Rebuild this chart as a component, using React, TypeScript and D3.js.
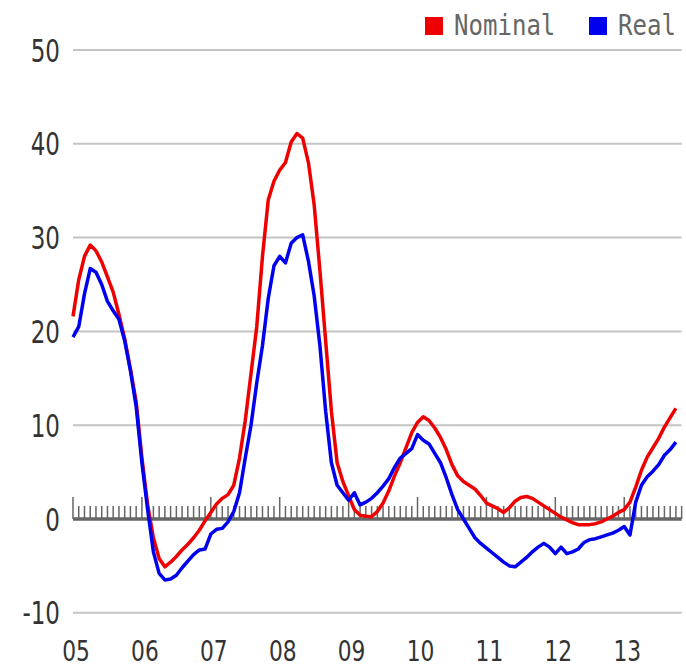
import React from "react";
import * as d3 from "d3";

// Monthly values, Jan 2005 .. Oct 2013 (y/y % change)
const nominal = [
  21.6, 25.5, 28.0, 29.2, 28.6, 27.4, 25.8, 24.2, 21.8, 19.2, 16.0, 12.5,
  6.5, 1.5, -2.0, -4.2, -5.1, -4.6, -4.0, -3.3, -2.7, -2.0, -1.2, -0.2,
  0.7, 1.6, 2.2, 2.6, 3.6, 6.5, 10.5, 15.5, 20.5, 28.0, 34.0, 36.0,
  37.2, 38.0, 40.2, 41.1, 40.6, 38.0, 33.5, 26.5, 19.0, 11.5, 6.0, 4.0,
  2.5, 1.0, 0.4, 0.3, 0.25, 0.8, 1.7, 3.0, 4.6, 6.0, 7.6, 9.2,
  10.3, 10.9, 10.5, 9.7, 8.7, 7.4, 5.8, 4.6, 4.0, 3.6, 3.2, 2.5,
  1.7, 1.4, 1.1, 0.7, 1.2, 1.9, 2.3, 2.4, 2.2, 1.8, 1.4, 1.0,
  0.6, 0.2, -0.1, -0.4, -0.6, -0.6, -0.6, -0.5, -0.3, 0.0, 0.3, 0.7,
  1.0, 1.8, 3.4, 5.2, 6.6, 7.6, 8.6, 9.8, 10.8, 11.8,
];
const real = [
  19.4, 20.5, 24.0, 26.7, 26.3, 25.0, 23.2, 22.2, 21.3, 19.0, 15.8, 12.0,
  6.0, 1.0, -3.5, -5.8, -6.5, -6.4, -6.0, -5.2, -4.5, -3.8, -3.3, -3.2,
  -1.6, -1.1, -1.0, -0.3, 0.8, 2.8, 6.5, 10.0, 14.5, 18.5, 23.5, 27.0,
  28.0, 27.3, 29.4, 30.0, 30.3, 27.5, 23.8, 18.5, 11.5, 6.0, 3.6, 2.8,
  2.0, 2.8, 1.5, 1.8, 2.2, 2.8, 3.5, 4.3, 5.5, 6.5, 7.0, 7.5,
  9.0, 8.4, 8.0, 7.0, 6.0, 4.4, 2.6, 1.0, 0.0, -1.0, -2.0, -2.6,
  -3.1, -3.6, -4.1, -4.6, -5.0, -5.1, -4.6, -4.1, -3.5, -3.0, -2.6, -3.0,
  -3.7, -3.0, -3.7, -3.5, -3.2, -2.5, -2.2, -2.1, -1.9, -1.7, -1.5, -1.2,
  -0.8, -1.7, 1.8, 3.6, 4.5, 5.1, 5.8, 6.8, 7.4, 8.2,
];
const yearLabels = ["05", "06", "07", "08", "09", "10", "11", "12", "13"];
const yTicks = [-10, 0, 10, 20, 30, 40, 50];
const seriesNames = ["Nominal", "Real"];
const seriesColors = ["#ee0000", "#0000ee"];
const totalMonths = 106;

export default function App() {
  const W = 686;
  const H = 669;
  const x = d3.scaleLinear().domain([0, totalMonths]).range([73, 73 + totalMonths * 5.742]);
  const y = d3.scaleLinear().domain([-10, 50]).range([612.8, 50]);
  const line = d3
    .line<number>()
    .x((_, i) => x(i))
    .y((d) => y(d));
  const months = d3.range(totalMonths + 1);
  const x0 = x(0);
  const x1 = x(totalMonths);

  return (
    <svg
      width={W}
      height={H}
      style={{ position: "absolute", left: 0, top: 0, background: "#fff" }}
    >
      {yTicks
        .filter((t) => t !== 0)
        .map((t) => (
          <line key={t} x1={x0} x2={x1} y1={y(t)} y2={y(t)} stroke="#c4c4c4" strokeWidth={2} />
        ))}
      {yTicks.map((t) => (
        <text
          key={"yl" + t}
          transform={`translate(60,${y(t) + 11.5}) scale(0.72,1)`}
          textAnchor="end"
          fontFamily="DejaVu Sans"
          fontSize={32}
          fill="#333"
        >
          {t}
        </text>
      ))}
      {months.map((m) => (
        <line
          key={"tk" + m}
          x1={x(m)}
          x2={x(m)}
          y1={y(0)}
          y2={y(0) - (m % 12 === 0 ? 22 : 13)}
          stroke="#666"
          strokeWidth={1.5}
        />
      ))}
      <line x1={x0} x2={x1} y1={y(0)} y2={y(0)} stroke="#666" strokeWidth={3.5} />
      {yearLabels.map((lab, i) => (
        <text
          key={lab}
          transform={`translate(${x(i * 12) + 3},${661}) scale(0.75,1)`}
          textAnchor="middle"
          fontFamily="DejaVu Sans"
          fontSize={29}
          fill="#333"
        >
          {lab}
        </text>
      ))}
      <path d={line(nominal) || ""} fill="none" stroke={seriesColors[0]} strokeWidth={3.5} strokeLinejoin="round" />
      <path d={line(real) || ""} fill="none" stroke={seriesColors[1]} strokeWidth={3.5} strokeLinejoin="round" />
      {seriesNames.map((name, i) => {
        const lx = i === 0 ? 425 : 589;
        return (
          <g key={name}>
            <rect x={lx} y={17} width={18} height={18} fill={seriesColors[i]} />
            <text
              transform={`translate(${lx + 29},35) scale(0.83,1)`}
              fontFamily="DejaVu Sans Mono"
              fontSize={29}
              fill="#666"
            >
              {name}
            </text>
          </g>
        );
      })}
    </svg>
  );
}
